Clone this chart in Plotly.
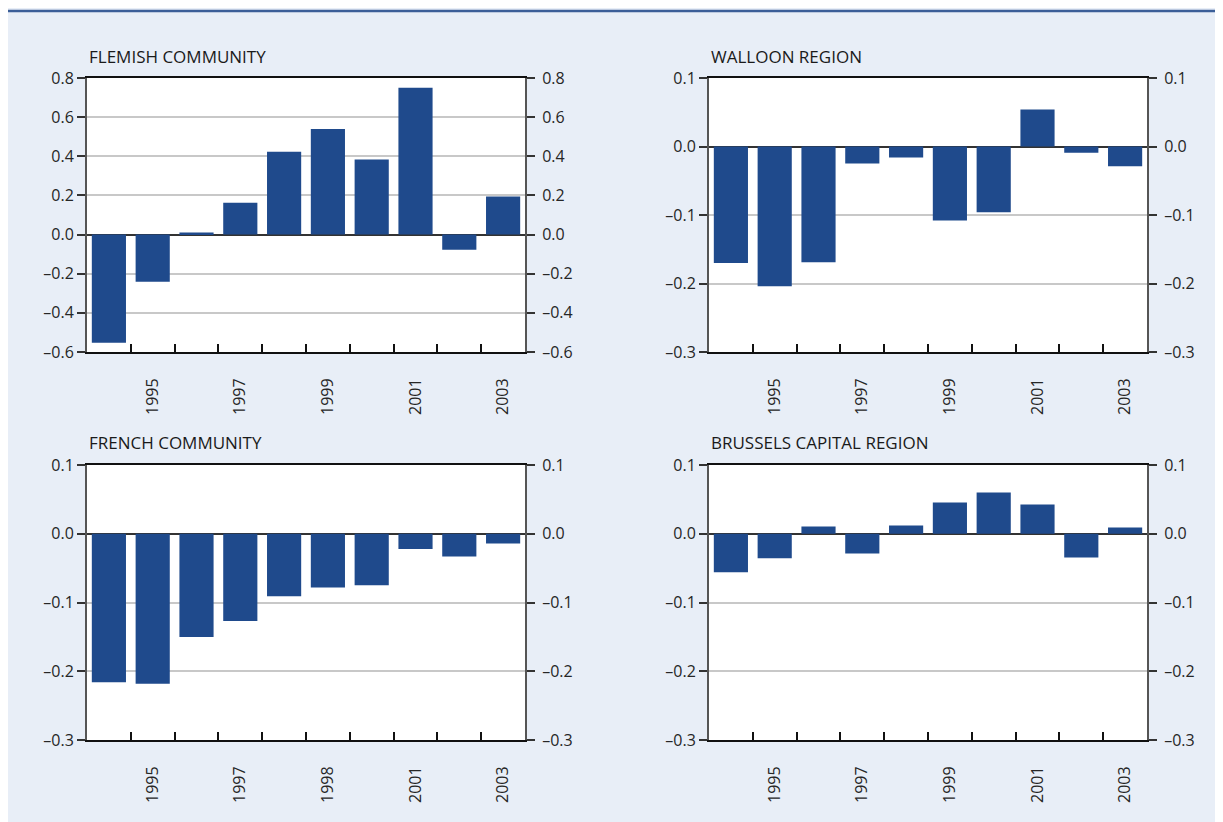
import plotly.graph_objects as go

years = [1994, 1995, 1996, 1997, 1998, 1999, 2000, 2001, 2002, 2003]
flemish = [-0.553, -0.241, 0.01, 0.163, 0.423, 0.54, 0.383, 0.75, -0.077, 0.194]
walloon = [-0.170, -0.204, -0.169, -0.025, -0.016, -0.108, -0.096, 0.054, -0.009, -0.029]
french = [-0.216, -0.218, -0.150, -0.127, -0.091, -0.078, -0.075, -0.022, -0.033, -0.014]
brussels = [-0.056, -0.0355, 0.0106, -0.0287, 0.012, 0.0456, 0.060, 0.0427, -0.0345, 0.0092]

titles = ["FLEMISH COMMUNITY", "WALLOON REGION", "FRENCH COMMUNITY", "BRUSSELS CAPITAL REGION"]
xtick_vals = [1995, 1997, 1999, 2001, 2003]
xtick_text_std = ["1995", "1997", "1999", "2001", "2003"]
xtick_text_french = ["1995", "1997", "1998", "2001", "2003"]
boundary_vals = [1994.5, 1995.5, 1996.5, 1997.5, 1998.5, 1999.5, 2000.5, 2001.5, 2002.5]

ytick_flemish = [-0.6, -0.4, -0.2, 0.0, 0.2, 0.4, 0.6, 0.8]
ytick_small = [-0.3, -0.2, -0.1, 0.0, 0.1]

W, H = 1223, 822
BAR = "#1F4A8C"
BG = "#E8EEF7"
FONT = "Open Sans"
TXT = "#262626"

def fmt(v):
    s = f"{abs(v):.1f}"
    return ("\u2013" + s) if v < -1e-9 else s

# pixel boxes in figure coordinates: (left, right, top, bottom)
boxes = [(79, 517, 70, 344), (701, 1139, 70, 344), (79, 517, 457, 732), (701, 1139, 457, 732)]
series = [flemish, walloon, french, brussels]
yticks = [ytick_flemish, ytick_small, ytick_small, ytick_small]
xtexts = [xtick_text_std, xtick_text_std, xtick_text_french, xtick_text_std]

fig = go.Figure()
layout = dict(template="none", width=W, height=H,
              margin=dict(l=0, r=0, t=0, b=0, pad=0, autoexpand=False),
              paper_bgcolor=BG, plot_bgcolor="white", showlegend=False,
              font=dict(family=FONT, size=16, color=TXT))
shapes = [
    dict(type="line", xref="paper", yref="paper", x0=0, x1=1, y0=1 - 3 / H, y1=1 - 3 / H,
         line=dict(color="#3B5E98", width=2.5)),
]
annotations = []

for i in range(4):
    l, r, t, b = boxes[i]
    xd = [l / W, r / W]
    yd = [1 - b / H, 1 - t / H]
    n = i + 1
    xa = "x" if n == 1 else f"x{n}"
    ya = "y" if n == 1 else f"y{n}"
    yr = f"y{n + 4}"
    yv = yticks[i]
    fig.add_trace(go.Bar(x=years, y=series[i], marker=dict(color=BAR, line=dict(width=0)),
                         width=0.78, xaxis=xa, yaxis=ya, hoverinfo="x+y"))
    # empty helper trace so the right-hand axis is drawn
    fig.add_trace(go.Scatter(x=[], y=[], xaxis=xa, yaxis=yr, hoverinfo="skip", showlegend=False))
    layout[f"xaxis{n if n > 1 else ''}"] = dict(
        domain=xd, anchor=ya, range=[1993.5, 2003.5], tickmode="array",
        tickvals=xtick_vals, ticktext=xtexts[i], tickangle=-90,
        ticks="outside", ticklen=18, tickcolor="rgba(0,0,0,0)", automargin=False,
        showgrid=False, zeroline=False, showline=True, linecolor="#111", linewidth=2,
        mirror=True, tickfont=dict(size=16, color=TXT, family=FONT),
        minor=dict(tickmode="array", tickvals=boundary_vals, ticks="inside",
                   ticklen=8, tickcolor="#111", tickwidth=1.5, showgrid=False),
    )
    rng = [yv[0], yv[-1]]
    common_y = dict(range=rng, tickmode="array", tickvals=yv, ticktext=[fmt(v) for v in yv],
                    ticks="outside", ticklen=8, tickcolor="#333", tickwidth=1.5,
                    showline=True, linecolor="#555", linewidth=2, automargin=False,
                    tickfont=dict(size=16, color=TXT, family=FONT))
    layout[f"yaxis{n if n > 1 else ''}"] = dict(
        domain=yd, anchor=xa, showgrid=True, gridcolor="#c8c8c8", gridwidth=1.5,
        zeroline=True, zerolinecolor="#333", zerolinewidth=2, **common_y)
    layout[f"yaxis{n + 4}"] = dict(
        overlaying=ya, side="right", anchor=xa, showgrid=False, zeroline=False,
        ticklabelstandoff=4, **common_y)
    annotations.append(dict(xref="paper", yref="paper", x=l / W, y=1 - (t - 22) / H,
                            xanchor="left", yanchor="middle", showarrow=False,
                            text=titles[i], font=dict(size=17, color="#1a1a1a", family=FONT)))

layout["shapes"] = shapes
layout["annotations"] = annotations
fig.update_layout(**layout)
fig.write_html("out.html")
